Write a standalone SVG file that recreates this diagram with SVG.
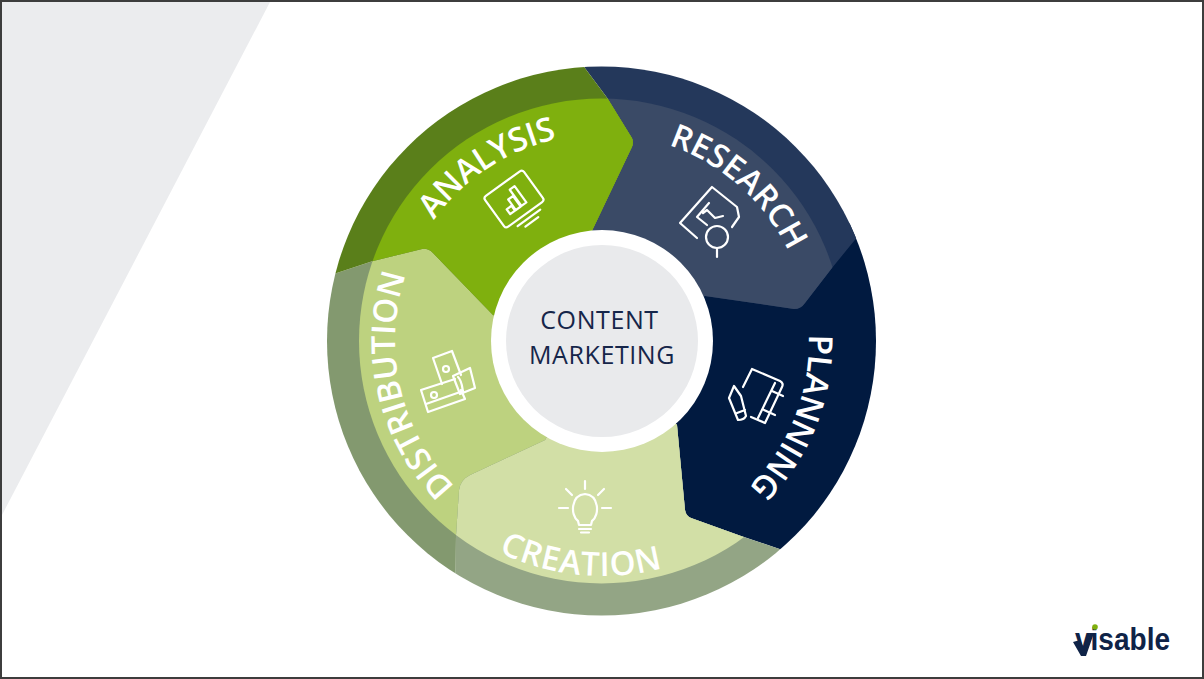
<svg xmlns="http://www.w3.org/2000/svg" width="1204" height="679" viewBox="0 0 1204 679">
  <style>
    .label { font-family: "Open Sans", "Noto Sans", sans-serif; font-weight: 600; font-size: 33px; fill: #ffffff; text-anchor: middle; }
    .hub { font-family: "Open Sans", "Noto Sans", sans-serif; font-size: 25px; fill: #16264a; text-anchor: middle; letter-spacing: 0.6px; }
    .icon { fill: none; stroke: #ffffff; stroke-width: 2.2; stroke-linecap: round; stroke-linejoin: round; }
  </style>
  <defs>
    <path id="arcTop207" d="M395,341 A207,207 0 0 1 809,341"/>
    <path id="arcBottom235" d="M367,341 A235,235 0 0 0 837,341"/>
    <clipPath id="disc"><circle cx="601.500" cy="341" r="274.500"/></clipPath>
    <clipPath id="face"><circle cx="601.500" cy="341" r="242.500"/></clipPath>
    <path id="shape-planning" d="M880,209 L950,341 L800,556 L741,536 L691,518 Q686,516 685,510 L677,425 L602,341 Z"/>
    <path id="shape-research" d="M570,48 L880,60 L880,209 L832,268 L805,303 Q801,309 794,309 L705,296 L602,341 L592,231 L632,147 Q634,142 632,138 L608,99 Z"/>
    <path id="shape-creation" d="M800,556 L741,536 L691,518 Q686,516 685,510 L677,425 L602,341 L545,440 L470,475 Q460,480 459,490 L456,535 L455,640 L780,640 Z"/>
    <path id="shape-distribution" d="M310,282 L373,261 L422,249 Q428,248 433,253 L493,315 L602,341 L545,440 L470,475 Q460,480 459,490 L456,535 L455,640 L300,640 Z"/>
    <path id="shape-analysis" d="M310,282 L373,261 L422,249 Q428,248 433,253 L493,315 L602,341 L592,231 L632,147 Q634,142 632,138 L608,99 L570,48 L300,48 Z"/>
  </defs>

  <rect x="0" y="0" width="1204" height="679" fill="#ffffff"/>
  <polygon points="2,2 270,2 2,515" fill="#ebecee"/>
  <rect x="1" y="1" width="1202" height="677" fill="none" stroke="#3d3d3d" stroke-width="2"/>

  <g id="connectors"/>

  <!-- Ring segments: a darker rim under a lighter face, both cut from one outline -->
  <g id="node-planning">
    <use href="#shape-planning" fill="#011a40" clip-path="url(#disc)"/>
  </g>
  <g id="node-research">
    <use href="#shape-research" fill="#24385b" clip-path="url(#disc)"/>
    <use href="#shape-research" fill="#3a4a66" clip-path="url(#face)"/>
  </g>
  <g id="node-creation">
    <use href="#shape-creation" fill="#93a585" clip-path="url(#disc)"/>
    <use href="#shape-creation" fill="#d2dfa6" clip-path="url(#face)"/>
  </g>
  <g id="node-distribution">
    <use href="#shape-distribution" fill="#83996f" clip-path="url(#disc)"/>
    <use href="#shape-distribution" fill="#bdd27f" clip-path="url(#face)"/>
  </g>
  <g id="node-analysis">
    <use href="#shape-analysis" fill="#5a7f1a" clip-path="url(#disc)"/>
    <use href="#shape-analysis" fill="#7fb00e" clip-path="url(#face)"/>
  </g>

  <g id="node-hub">
    <circle cx="602" cy="341" r="111" fill="#ffffff"/>
    <circle cx="602" cy="341" r="96" fill="#e9eaec"/>
    <text class="hub" x="599.500" y="329">CONTENT</text>
    <text class="hub" x="602" y="364">MARKETING</text>
  </g>

  <!-- Curved captions -->
  <text class="label" letter-spacing="-0.4" transform="rotate(-33.500 602 341)"><textPath href="#arcTop207" startOffset="50%">ANALYSIS</textPath></text>
  <text class="label" transform="rotate(41.500 602 341)"><textPath href="#arcTop207" startOffset="50%">RESEARCH</textPath></text>
  <text class="label" letter-spacing="-0.4" transform="rotate(111.500 602 341)"><textPath href="#arcTop207" startOffset="50%">PLANNING</textPath></text>
  <text class="label" transform="rotate(-103 602 341)"><textPath href="#arcTop207" startOffset="50%">DISTRIBUTION</textPath></text>
  <text class="label" letter-spacing="0.8" transform="rotate(5.500 602 341)"><textPath href="#arcBottom235" startOffset="50%">CREATION</textPath></text>

  <!-- Pictograms -->
  <g class="icon" transform="translate(514,199) rotate(-36)">
    <rect x="-24" y="-19" width="48" height="38" rx="3"/>
    <path d="M-13,24 H15 M-7,29 H9"/>
    <path d="M-12,10 V4 H-6 V10 Z M-5,10 V-3 H1 V10 Z M2,10 V-10 H8 V10 Z"/>
  </g>
  <g class="icon">
    <path d="M697,238 L680,223 L712,187 L737,207 L739,217 L732,227"/>
    <path d="M709,203 L697,217 L707,225 M703,213 L707,210 L715,218 L723,216"/>
    <circle cx="717" cy="237" r="11"/>
    <path d="M717,248 V257"/>
  </g>
  <g class="icon">
    <path d="M743,387 L752,369 L780,381 Q784,383 782,387 L765,423 L751,417"/>
    <path d="M775,383 L758,418 M772,391 L783,396 M764,410 L775,415"/>
    <path d="M734,386 L741,396 L746,416 Q744,420 738,420 L729,398 Z M737,413 L745,410"/>
  </g>
  <g class="icon">
    <path d="M585,481 V489 M566,489 L572,495 M559,508 H568 M611,508 H602 M604,489 L598,495"/>
    <path d="M578,521 C570,515 571,495 585,494 C599,495 600,515 592,521 L591,525 H579 Z"/>
    <path d="M579,529 H591 M581,532.500 H589"/>
  </g>
  <g class="icon">
    <path d="M442,384 L433,358 L452,351 L461,375"/>
    <circle cx="446" cy="369" r="3"/>
    <path d="M455,379 L421,390 L428,412 L465,399 L461,390"/>
    <path d="M426,404 L463,391"/>
    <circle cx="434" cy="395" r="3"/>
    <path d="M453,376 L470,368 L475,388 L460,394 Z M458,377 C462,381 462,386 463,392"/>
  </g>

  <!-- Brand mark -->
  <g id="logo">
    <polygon points="1073,642 1080,640 1084,648 1090,633 1094,633 1086,656 1081,656" fill="#0f2347"/>
    <text x="1075" y="650" font-family="'Liberation Sans',Arial,sans-serif" font-weight="700" font-size="31" fill="#0f2347" textLength="95" lengthAdjust="spacingAndGlyphs">visable</text>
    <circle cx="1095" cy="627" r="2.800" fill="#7fb00e"/>
  </g>
</svg>
